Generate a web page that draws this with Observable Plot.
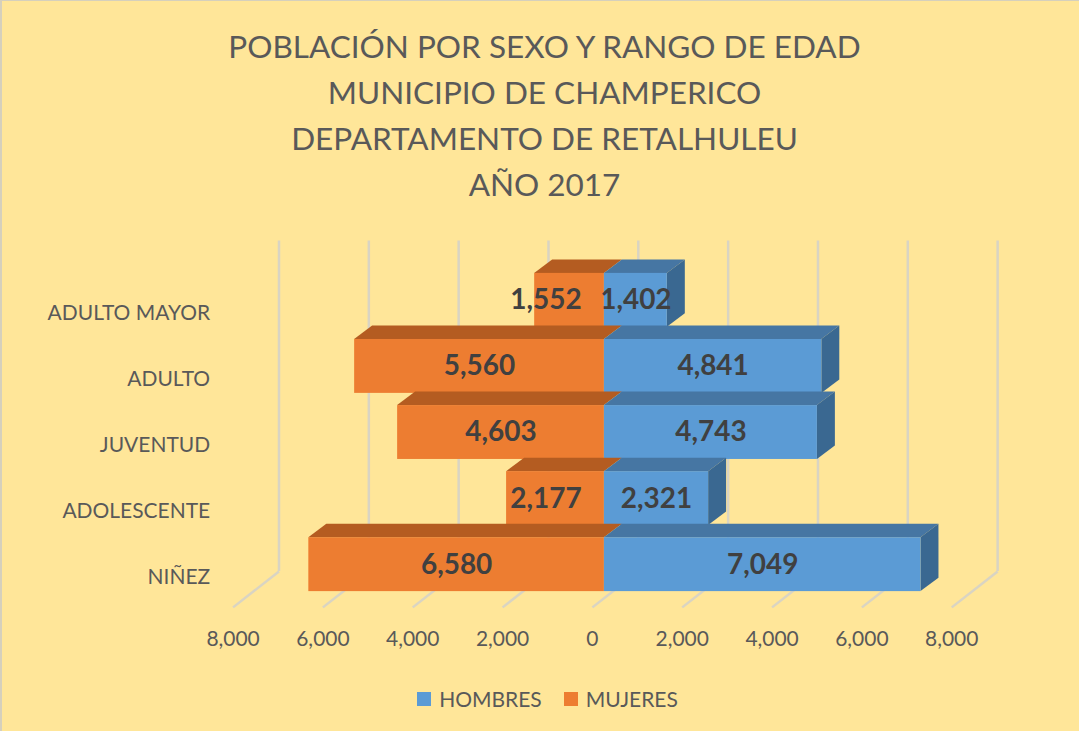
<!DOCTYPE html>
<html>
<head>
<meta charset="utf-8">
<script src="https://cdn.jsdelivr.net/npm/d3@7"></script>
<script src="https://cdn.jsdelivr.net/npm/@observablehq/plot@0.6"></script>
<style>
  html, body { margin: 0; padding: 0; }
  #wrap { position: relative; width: 1079px; height: 731px; background: #FFE699; box-sizing: border-box; border-top: 1px solid #D6D0BC; border-left: 2px solid #D6D0BC; overflow: hidden; font-family: Lato, "Liberation Sans", sans-serif; color: #595959; }
  #title { position: absolute; left: 0; top: 22px; width: 1085px; text-align: center; font-size: 31.5px; line-height: 46px; color: #595959; }
  #chart { position: absolute; left: 0; top: 0; }
  #legend { position: absolute; top: 685px; left: 6px; width: 1079px; display: flex; justify-content: center; gap: 0; font-size: 21px; color: #595959; }
  .item { display: flex; align-items: center; margin: 0 11px; }
  .sw { width: 14px; height: 14px; margin-right: 8px; }
</style>
</head>
<body>
<div id="wrap">
  <div id="title"></div>
  <div id="chart"></div>
  <div id="legend"></div>
</div>
<script>
const titleLines = ["POBLACIÓN POR SEXO Y RANGO DE EDAD", "MUNICIPIO DE CHAMPERICO", "DEPARTAMENTO DE RETALHULEU", "AÑO 2017"];
const categories = ["NIÑEZ", "ADOLESCENTE", "JUVENTUD", "ADULTO", "ADULTO MAYOR"];
const hombres = [7049, 2321, 4743, 4841, 1402];
const mujeres = [6580, 2177, 4603, 5560, 1552];
const xTicks = [-8000, -6000, -4000, -2000, 0, 2000, 4000, 6000, 8000];
const seriesNames = ["HOMBRES", "MUJERES"];
const colors = {
  HOMBRES: {front: "#5B9BD5", top: "#4676A3", side: "#3A6891"},
  MUJERES: {front: "#ED7D31", top: "#B45C21", side: "#A9541C"}
};

document.getElementById("title").innerHTML = titleLines.join("<br>");

const W = 1079, H = 731;
const mL = 231, mR = W - 951, mT = 276, mB = H - 607;
const yDomain = [-0.45, 4.55];
const pxPerX = (W - mL - mR) / 16000;
const pxPerY = (H - mT - mB) / (yDomain[1] - yDomain[0]);
// depth vectors (pixels) converted to data units
const barDepthX = 18 / pxPerX, barDepthY = 13.5 / pxPerY;
const wallDX = 46, wallDY = 36;
const wallDepthX = wallDX / pxPerX, wallDepthY = wallDY / pxPerY;
const half = 27 / pxPerY;
const offX = 12, offY = -13;

const fmt = d3.format(",");
const gridColor = "#D9D4C3";

const marks = [];
// back wall gridlines
marks.push(Plot.ruleX(xTicks, {y1: yDomain[0], y2: yDomain[1], dx: wallDX, dy: -wallDY, stroke: gridColor, strokeWidth: 2.5}));
// floor diagonals
marks.push(Plot.link(xTicks, {x1: d => d, y1: yDomain[0], x2: d => d + wallDepthX, y2: yDomain[0] + wallDepthY, stroke: gridColor, strokeWidth: 2.5}));

// bars, drawn from the top row to the bottom row
for (let i = categories.length - 1; i >= 0; i--) {
  const segs = [
    {s: "MUJERES", a: -mujeres[i], b: 0},
    {s: "HOMBRES", a: 0, b: hombres[i]}
  ];
  for (const g of segs) {
    const topPts = [
      {y: i + half, x1: g.a, x2: g.b},
      {y: i + half + barDepthY, x1: g.a + barDepthX, x2: g.b + barDepthX}
    ];
    marks.push(Plot.areaX(topPts, {y: "y", x1: "x1", x2: "x2", fill: colors[g.s].top, dx: offX, dy: offY}));
  }
  const hb = hombres[i];
  const sidePts = [
    {x: hb, y1: i - half, y2: i + half},
    {x: hb + barDepthX, y1: i - half + barDepthY, y2: i + half + barDepthY}
  ];
  marks.push(Plot.areaY(sidePts, {x: "x", y1: "y1", y2: "y2", fill: colors.HOMBRES.side, dx: offX, dy: offY}));
  const fronts = segs.map(g => ({s: g.s, x1: g.a, x2: g.b, y1: i - half, y2: i + half}));
  marks.push(Plot.rect(fronts, {x1: "x1", x2: "x2", y1: "y1", y2: "y2", fill: d => colors[d.s].front, dx: offX, dy: offY}));
}

// value labels
const labels = [];
categories.forEach((c, i) => {
  labels.push({i, x: -Math.max(mujeres[i] / 2, 1300), v: mujeres[i]});
  labels.push({i, x: Math.max(hombres[i] / 2, 700), v: hombres[i]});
});
marks.push(Plot.text(labels, {x: "x", y: "i", text: d => fmt(d.v), dx: offX, dy: offY, fontSize: 28, fontWeight: "bold", fill: "#404040"}));

marks.push(Plot.axisX({ticks: xTicks, tickFormat: d => fmt(Math.abs(d)), tickSize: 0, tickPadding: 24, fontSize: 21, anchor: "bottom"}));
marks.push(Plot.axisY({ticks: [0, 1, 2, 3, 4], tickFormat: i => categories[i], tickSize: 0, tickPadding: 23, fontSize: 21, anchor: "left"}));

const chart = Plot.plot({
  width: W, height: H,
  marginLeft: mL, marginRight: mR, marginTop: mT, marginBottom: mB,
  x: {domain: [-8000, 8000], label: null},
  y: {domain: yDomain, label: null},
  style: {background: "transparent", fontFamily: "Lato, 'Liberation Sans', sans-serif", color: "#595959", overflow: "visible"},
  marks
});
document.getElementById("chart").appendChild(chart);

const legend = document.getElementById("legend");
seriesNames.forEach(s => {
  const it = document.createElement("div");
  it.className = "item";
  it.innerHTML = `<span class="sw" style="background:${colors[s].front}"></span><span>${s}</span>`;
  legend.appendChild(it);
});
</script>
</body>
</html>
